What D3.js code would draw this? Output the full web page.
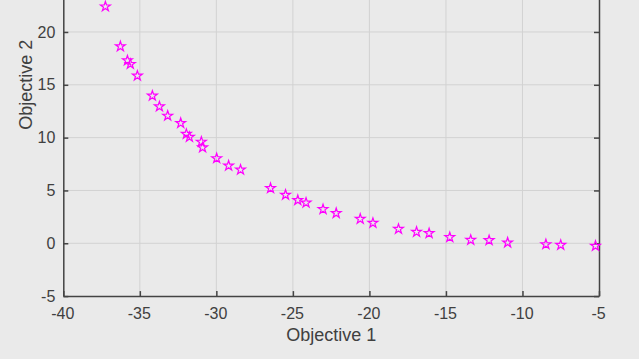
<!DOCTYPE html>
<html>
<head>
<meta charset="utf-8">
<script src="https://cdn.jsdelivr.net/npm/d3@7"></script>
<style>
  body { margin: 0; background: #eaeaea; }
  svg { display: block; font-family: Arial, "Liberation Sans", Helvetica, sans-serif; }
  .tick text { fill: #404040; font-size: 16px; }
</style>
</head>
<body>
<div id="chart"></div>
<script>
// Pareto front points
const obj1 = [-37.25, -36.27, -35.81, -35.62, -35.16, -34.18, -33.72, -33.18, -32.33, -31.96,
  -31.76, -30.98, -30.9, -29.98, -29.2, -28.42, -26.46, -25.48, -24.68, -24.14,
  -23.03, -22.17, -20.6, -19.77, -18.1, -16.92, -16.1, -14.75, -13.38, -12.18,
  -10.97, -8.47, -7.5, -5.23]
const obj2 = [22.4, 18.63, 17.3, 16.96, 15.85, 13.96, 12.94, 12.06, 11.37, 10.34,
  10.06, 9.6, 9.06, 8.04, 7.34, 6.96, 5.21, 4.58, 4.08, 3.83,
  3.22, 2.85, 2.3, 1.92, 1.35, 1.07, 0.95, 0.57, 0.31, 0.28,
  0.06, -0.1, -0.17, -0.25]
const xTicks = [-40, -35, -30, -25, -20, -15, -10, -5]
const yTicks = [-5, 0, 5, 10, 15, 20]

const W = 639, H = 359
const box = {left: 63.3, right: 599, top: -126.5, bottom: 296.1}

const svg = d3.select('#chart').append('svg')
  .attr('width', W)
  .attr('height', H)

svg.append('rect')
  .attr('width', W).attr('height', H)
  .attr('fill', '#eaeaea')

const x = d3.scaleLinear().domain([-40, -5]).range([box.left, box.right])
const y = d3.scaleLinear().domain([-5, 35]).range([box.bottom, box.top])
const fmt = d => String(d)

// grid
svg.append('g').selectAll('line').data(xTicks.slice(1, -1))
  .enter().append('line')
    .attr('x1', d => x(d)).attr('x2', d => x(d))
    .attr('y1', box.top).attr('y2', box.bottom)
    .attr('stroke', '#d2d2d2').attr('stroke-width', 1)
svg.append('g').selectAll('line').data(yTicks.slice(1))
  .enter().append('line')
    .attr('x1', box.left).attr('x2', box.right)
    .attr('y1', d => y(d)).attr('y2', d => y(d))
    .attr('stroke', '#d2d2d2').attr('stroke-width', 1)

// axes, ticks pointing inward
const xAxis = svg.append('g')
  .attr('transform', `translate(0, ${box.bottom})`)
  .call(d3.axisBottom(x).tickValues(xTicks).tickFormat(fmt).tickSize(-5).tickPadding(12).tickSizeOuter(0))
const yAxis = svg.append('g')
  .attr('transform', `translate(${box.left}, 0)`)
  .call(d3.axisLeft(y).tickValues(yTicks).tickFormat(fmt).tickSize(-5).tickPadding(9).tickSizeOuter(0))
const yAxisR = svg.append('g')
  .attr('transform', `translate(${box.right}, 0)`)
  .call(d3.axisRight(y).tickValues(yTicks).tickSize(-5).tickFormat('').tickSizeOuter(0))

;[xAxis, yAxis, yAxisR].forEach(g => {
  g.select('.domain').attr('stroke', '#444').attr('stroke-width', 1.5)
  g.selectAll('.tick line').attr('stroke', '#444').attr('stroke-width', 1.5)
})
xAxis.selectAll('.tick text').attr('dy', '0.71em').attr('dx', '-1px')
yAxis.selectAll('.tick text').attr('dx', '1px')

// labels
svg.append('text')
  .attr('x', (box.left + box.right) / 2)
  .attr('y', 341)
  .attr('text-anchor', 'middle')
  .attr('fill', '#404040')
  .style('font-size', '18px')
  .text('Objective 1')

svg.append('text')
  .attr('transform', `translate(32, ${(box.top + box.bottom) / 2}) rotate(-90)`)
  .attr('text-anchor', 'middle')
  .attr('fill', '#404040')
  .style('font-size', '18px')
  .text('Objective 2')

// markers
const star = d3.symbol().type(d3.symbolStar).size(30)
svg.append('g').selectAll('path').data(obj1)
  .enter().append('path')
    .attr('d', star)
    .attr('transform', (d, i) => `translate(${x(d)}, ${y(obj2[i])})`)
    .attr('fill', 'none')
    .attr('stroke', '#ff00ff')
    .attr('stroke-width', 1.2)
</script>
</body>
</html>
